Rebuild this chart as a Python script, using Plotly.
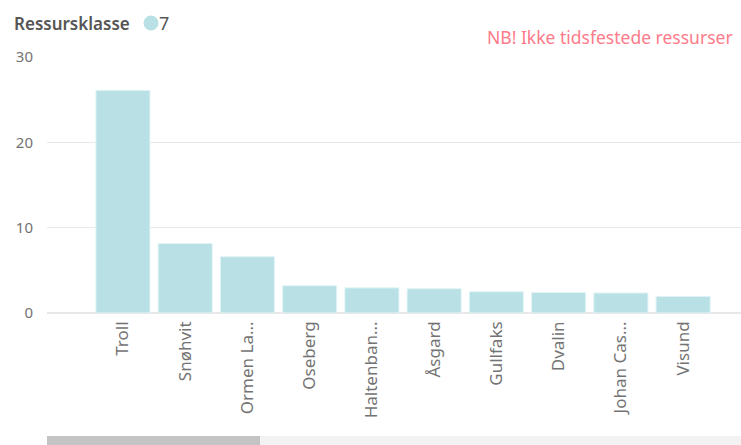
import plotly.graph_objects as go

categories = ["Troll", "Snøhvit", "Ormen La...", "Oseberg", "Haltenban...", "Åsgard",
              "Gullfaks", "Dvalin", "Johan Cas...", "Visund"]
values = [26.1, 8.15, 6.6, 3.2, 2.95, 2.85, 2.5, 2.4, 2.35, 1.95]
y_ticks = [0, 10, 20, 30]
legend_title = "Ressursklasse"
series_name = "7"
note = "NB! Ikke tidsfestede ressurser"

bar_color = "#b9e1e5"
font_family = "Noto Sans"

# pixel helpers for the plot area (l=47, plot width 694, plot bottom 313, plot height 256)
def px_x(px):
    return (px - 47) / 694

def px_y(py):
    return (313 - py) / 256

fig = go.Figure()
fig.add_trace(go.Bar(
    x=categories, y=values, name=series_name,
    marker=dict(color=bar_color, line=dict(color="#e4f4f6", width=1)),
    showlegend=False, hoverinfo="x+y",
))

fig.update_layout(
    width=741, height=445,
    margin=dict(l=47, r=0, t=57, b=132, pad=0),
    plot_bgcolor="white", paper_bgcolor="white",
    font=dict(family=font_family, color="#666666", size=15),
    bargap=0.13,
    showlegend=False,
    xaxis=dict(
        range=[-1.22, 9.93], tickangle=-90, showgrid=False, zeroline=False,
        showline=False, ticks="", tickfont=dict(size=17, color="#737373"),
        ticklabelstandoff=4, fixedrange=True,
    ),
    yaxis=dict(
        range=[0, 30], tickvals=y_ticks, showgrid=True, gridcolor="#e8e8e8",
        gridwidth=1, zeroline=True, zerolinecolor="#e8e8e8", showline=False,
        ticks="", tickfont=dict(size=15, color="#737373"), ticklabelstandoff=13,
        fixedrange=True,
    ),
    annotations=[
        dict(text=note, xref="paper", yref="paper", x=1.0, xshift=-6, y=px_y(37),
             xanchor="right", yanchor="middle", showarrow=False,
             font=dict(size=17.5, color="#fd7b8a", family=font_family)),
        dict(text=legend_title, xref="paper", yref="paper", x=px_x(12), y=px_y(23),
             xanchor="left", yanchor="middle", showarrow=False,
             font=dict(size=17, color="#555555", family=font_family, weight=600)),
        dict(text=series_name, xref="paper", yref="paper", x=px_x(157), y=px_y(23),
             xanchor="left", yanchor="middle", showarrow=False,
             font=dict(size=18, color="#555555", family=font_family)),
    ],
    shapes=[
        dict(type="circle", xref="paper", yref="paper", xsizemode="pixel", ysizemode="pixel",
             xanchor=px_x(151), yanchor=px_y(23), x0=-7.5, x1=7.5, y0=-7.5, y1=7.5,
             fillcolor=bar_color, line=dict(width=0)),
        dict(type="rect", xref="paper", yref="paper", x0=0, x1=1, y0=px_y(445.5), y1=px_y(436),
             fillcolor="#f2f2f2", line=dict(width=0), layer="above"),
        dict(type="rect", xref="paper", yref="paper", x0=0, x1=px_x(260), y0=px_y(445.5), y1=px_y(436),
             fillcolor="#c4c4c4", line=dict(width=0), layer="above"),
    ],
)

fig.write_html("out.html", config={"displayModeBar": False},
               post_script="document.body.style.margin='0';document.body.style.overflow='hidden';")
